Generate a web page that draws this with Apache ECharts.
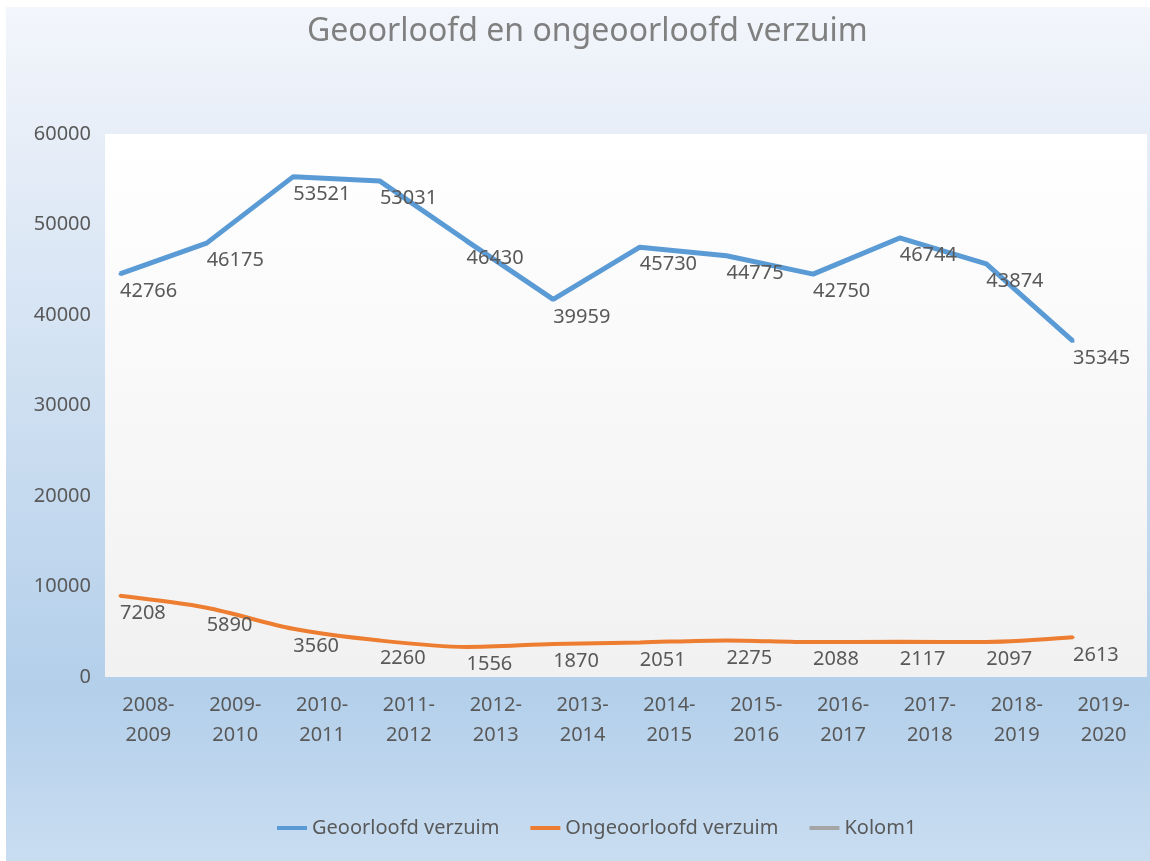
<!DOCTYPE html>
<html>
<head>
<meta charset="utf-8">
<title>Geoorloofd en ongeoorloofd verzuim</title>
<script src="https://cdn.jsdelivr.net/npm/echarts@6/dist/echarts.min.js"></script>
<style>
  html, body { margin: 0; padding: 0; background: #fff; }
  #chart { width: 1150px; height: 861px; }
</style>
</head>
<body>
<div id="chart"></div>
<script>
const schooljaren = ['2008-2009', '2009-2010', '2010-2011', '2011-2012', '2012-2013', '2013-2014',
  '2014-2015', '2015-2016', '2016-2017', '2017-2018', '2018-2019', '2019-2020']
const geoorloofd = [42766, 46175, 53521, 53031, 46430, 39959, 45730, 44775, 42750, 46744, 43874, 35345]
const ongeoorloofd = [7208, 5890, 3560, 2260, 1556, 1870, 2051, 2275, 2088, 2117, 2097, 2613]
const kolom1 = []
const yTicks = [0, 10000, 20000, 30000, 40000, 50000, 60000]

const textGrey = '#595959'
const font = 'Noto Sans'

const myChart = echarts.init(document.getElementById('chart'))

const labelStyle = {
  show: true,
  position: 'bottom',
  align: 'left',
  distance: 6,
  color: textGrey,
  fontSize: 20,
  fontFamily: font,
  formatter: (p) => String(p.value)
}

const option = {
  backgroundColor: '#ffffff',
  animation: false,
  graphic: [
    {
      type: 'rect',
      left: 6,
      top: 7,
      shape: { width: 1144, height: 854 },
      style: {
        fill: new echarts.graphic.LinearGradient(0, 0, 0, 1, [
          { offset: 0, color: '#f3f6fb' },
          { offset: 0.15, color: '#e7eef8' },
          { offset: 0.8, color: '#b3cfea' },
          { offset: 1, color: '#c9ddf1' }
        ])
      },
      z: -10
    }
  ],
  title: {
    text: 'Geoorloofd en ongeoorloofd verzuim',
    left: 302,
    top: 11,
    textStyle: { color: '#808080', fontSize: 32, fontWeight: 'normal', fontFamily: font }
  },
  legend: {
    bottom: 18,
    left: 272,
    icon: 'rect',
    itemWidth: 30,
    itemHeight: 4,
    itemGap: 31,
    textStyle: { color: textGrey, fontSize: 20, fontFamily: font },
    data: ['Geoorloofd verzuim', 'Ongeoorloofd verzuim', 'Kolom1']
  },
  grid: [
    {
      left: 105,
      right: 3,
      top: 134,
      bottom: 184,
      show: true,
      borderWidth: 0,
      backgroundColor: new echarts.graphic.LinearGradient(0, 0, 0, 1, [
        { offset: 0, color: '#ffffff' },
        { offset: 1, color: '#f1f1f1' }
      ])
    },
    // de lijnen staan in het origineel iets links-boven de as
    { left: 120, right: 77, top: 118, bottom: 200 }
  ],
  xAxis: [
    {
      type: 'category',
      gridIndex: 0,
      data: schooljaren,
      axisLine: { show: false },
      axisTick: { show: false },
      axisLabel: {
        margin: 13,
        color: textGrey,
        fontSize: 20,
        fontFamily: font,
        lineHeight: 30,
        formatter: (v) => v.replace('-', '-\n')
      }
    },
    {
      type: 'category',
      gridIndex: 1,
      data: schooljaren,
      boundaryGap: false,
      show: false
    }
  ],
  yAxis: [
    {
      type: 'value',
      gridIndex: 0,
      min: yTicks[0],
      max: yTicks[yTicks.length - 1],
      interval: 10000,
      axisLine: { show: false },
      axisTick: { show: false },
      splitLine: { show: false },
      axisLabel: {
        margin: 14,
        color: textGrey,
        fontSize: 20,
        fontFamily: font,
        formatter: (v) => String(v)
      }
    },
    {
      type: 'value',
      gridIndex: 1,
      min: yTicks[0],
      max: yTicks[yTicks.length - 1],
      show: false
    }
  ],
  series: [
    {
      name: 'Geoorloofd verzuim',
      type: 'line',
      xAxisIndex: 1,
      yAxisIndex: 1,
      data: geoorloofd,
      symbol: 'circle',
      symbolSize: 3,
      itemStyle: { color: '#5b9bd5' },
      lineStyle: { color: '#5b9bd5', width: 5 },
      label: labelStyle
    },
    {
      name: 'Ongeoorloofd verzuim',
      type: 'line',
      xAxisIndex: 1,
      yAxisIndex: 1,
      data: ongeoorloofd,
      smooth: 0.3,
      symbol: 'circle',
      symbolSize: 3,
      itemStyle: { color: '#ed7d31' },
      lineStyle: { color: '#ed7d31', width: 4 },
      label: labelStyle
    },
    {
      name: 'Kolom1',
      type: 'line',
      xAxisIndex: 1,
      yAxisIndex: 1,
      data: kolom1,
      itemStyle: { color: '#a5a5a5' },
      lineStyle: { color: '#a5a5a5', width: 4 }
    }
  ]
}

myChart.setOption(option)
</script>
</body>
</html>
